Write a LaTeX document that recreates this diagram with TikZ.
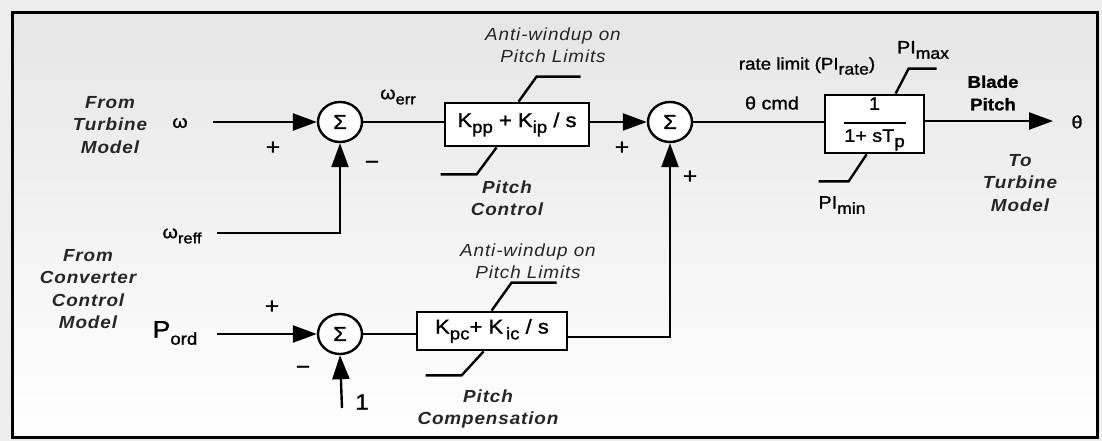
\documentclass[tikz,border=0pt]{standalone}
\usepackage{fontspec}
\setmainfont{Liberation Sans}[FakeStretch=1.1, FakeBold=1.2]
\newfontfamily\lblfont{Liberation Sans}[FakeStretch=1.08, LetterSpace=5]
\usetikzlibrary{arrows.meta,shapes.geometric,calc}
\newcommand\lo[2][12]{\raisebox{-0.55ex}{\fontsize{#1}{#1}\selectfont #2}}
\begin{document}
\begin{tikzpicture}[x=1pt,y=-1pt,
  wire/.style={line width=2.4pt},
  arr/.style={wire,-{Triangle[length=24pt,width=17pt]}},
  sumnode/.style={ellipse,draw,line width=2.4pt,fill=white,minimum width=44pt,minimum height=40pt,inner sep=0pt,font=\fontsize{20}{20}\selectfont},
  blk/.style={draw,line width=2.8pt,fill=white,inner sep=0pt,font=\fontsize{20}{22}\selectfont},
  lbl/.style={font=\lblfont\bfseries\itshape\fontsize{17.5}{22.5}\selectfont,align=center,text=black!85},
  lbl2/.style={font=\lblfont\itshape\fontsize{17.5}{22.5}\selectfont,align=center,text=black!85},
  sig/.style={font=\fontsize{18}{20}\selectfont},
  sgn/.style={font=\fontsize{22}{22}\selectfont},
  lim/.style={line width=2.4pt}
]
\useasboundingbox (0,0) rectangle (1102,441);
\fill[gray!14] (0,0) rectangle (1102,441);
\shade[top color=gray!20, bottom color=white] (12,13) rectangle (1097,437);
\draw[line width=3pt] (12,13) rectangle (1097,437);

% summing junctions
\node[sumnode] (s1) at (340,122) {Σ};
\node[sumnode] (s2) at (670,122) {Σ};
\node[sumnode] (s3) at (340,334) {Σ};

% blocks
\node[blk,minimum width=144pt,minimum height=43pt] (b1) at (517,124.5) {K\lo[17]{pp} + K\lo[17]{ip} / s};
\node[blk,minimum width=150pt,minimum height=38pt] (b2) at (492,331) {K\lo[17]{pc}+ K\lo[17]{\,ic} / s};
\node[blk,minimum width=99pt,minimum height=58pt,font=\fontsize{18}{20}\selectfont,align=center] (b3) at (874.5,124)
  {1\\[-6pt]\rule{62pt}{2pt}\\[-2pt]1+ sT\lo[17]{p}};

% free ends
\coordinate (win) at (213,122);
\coordinate (wref) at (217,233);
\coordinate (pin) at (217,334);
\coordinate (onein) at (342,408);
\coordinate (out) at (1053,121);

% connectors
\draw[arr] (win) -- (s1.west);
\draw[arr] (wref) -| (s1.south);
\draw[wire] (s1.east) -- (s1.east -| b1.west);
\draw[arr] (b1.east |- s2.west) -- (s2.west);
\draw[wire] (s2.east) -- (s2.east -| b3.west);
\draw[arr] (b3.east |- out) -- (out);
\draw[arr] (pin) -- (s3.west);
\draw[arr] (onein) -- (s3.south);
\draw[wire] (s3.east) -- (s3.east -| b2.west);
\draw[arr] (b2.east |- 0,337) -| (s2.south);

% limit lines
\draw[lim] ($(b1.north west)+(75,0)$) -- ++(18,-25) -- ++(44,0);
\draw[lim] ($(b1.south west)+(53,0)$) -- ++(-20,27) -- ++(-36,0);
\draw[lim] ($(b2.north west)+(76,0)$) -- ++(20,-28) -- ++(45,0);
\draw[lim] ($(b2.south west)+(68,0)$) -- ++(-22,24) -- ++(-36,0);
\draw[lim] ($(b3.north west)+(72,0)$) -- ++(13,-25) -- ++(28,0);
\draw[lim] ($(b3.south west)+(43,0)$) -- ++(-18,27) -- ++(-30,0);

% labels
\node[lbl] (tfrom) at (110,125) {From\\Turbine\\Model};
\node[sig] (lw) at (180,123) {ω};
\node[sgn] (p1) at (273,148) {+};
\node[sgn] (m1) at (372,165) {−};
\node[sig] (lwerr) at (398,97) {ω\lo[15]{err}};
\node[sig] (lwref) at (182,236) {ω\lo[15]{reff}};
\node[lbl2] (aw1) at (553,45) {Anti-windup on\\Pitch Limits};
\node[lbl] (pc) at (507,198) {Pitch\\Control};
\node[sgn] (p2) at (622,148) {+};
\node[sgn] (p3) at (690,177) {+};
\node[sig] (lcmd) at (772,103) {θ cmd};
\node[sig,font=\fontsize{17}{20}\selectfont] (lrate) at (807,66) {rate limit (PI\lo[16]{rate})};
\node[sig] (lmax) at (923,50) {PI\lo[16]{max}};
\node[sig] (lmin) at (842,205) {PI\lo[16]{min}};
\node[sig,align=center,font=\bfseries\fontsize{17}{22.5}\selectfont] (lblade) at (993,93) {Blade\\Pitch};
\node[sig] (ltheta) at (1077,122) {θ};
\node[lbl] (tto) at (1020,183) {To\\Turbine\\Model};
\node[lbl] (cfrom) at (88,289) {From\\Converter\\Control\\Model};
\node[sgn] (p4) at (272,307) {+};
\node[sig,font=\fontsize{24}{24}\selectfont] (lp) at (175,333) {P\lo[17]{ord}};
\node[sgn] (m3) at (303,370) {−};
\node[sgn] (lone) at (362,402) {1};
\node[lbl2] (aw2) at (528,261) {Anti-windup on\\Pitch Limits};
\node[lbl] (pcomp) at (488,409) {Pitch\\Compensation};
\end{tikzpicture}
\end{document}
